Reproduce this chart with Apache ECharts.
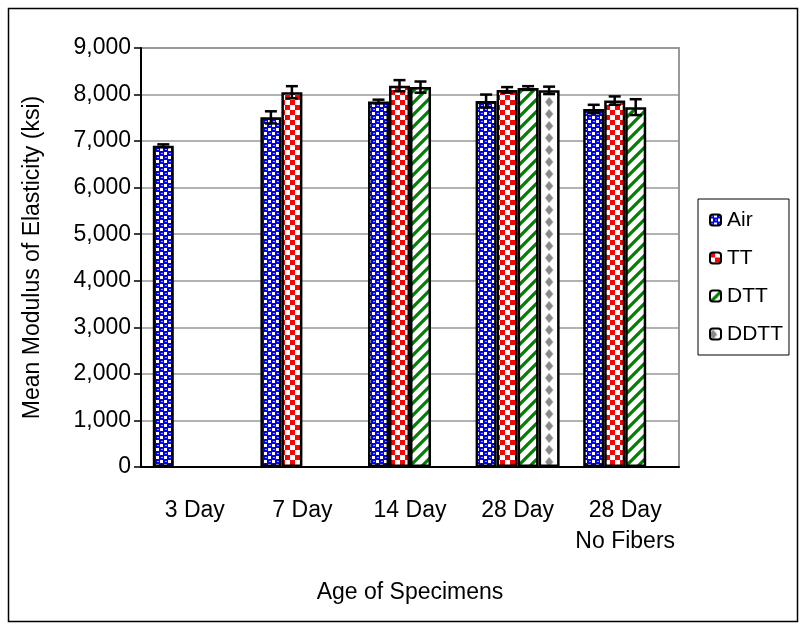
<!DOCTYPE html>
<html>
<head>
<meta charset="utf-8">
<script src="https://cdn.jsdelivr.net/npm/echarts@6/dist/echarts.min.js"></script>
<style>
  html, body { margin: 0; padding: 0; background: #fff; }
  #main { width: 809px; height: 632px; }
</style>
</head>
<body>
<div id="main"></div>
<script>
// categories and values
var categories = ['3 Day', '7 Day', '14 Day', '28 Day', '28 Day\nNo Fibers'];
var seriesNames = ['Air', 'TT', 'DTT', 'DDTT'];
var airValues  = [6900, 7510, 7850, 7860, 7690];
var ttValues   = [null, 8050, 8190, 8100, 7870];
var dttValues  = [null, null, 8160, 8140, 7730];
var ddttValues = [null, null, null, 8090, null];
// +/- error for each bar
var airErr  = [30, 130, 40, 140, 90];
var ttErr   = [null, 130, 120, 60, 90];
var dttErr  = [null, null, 120, 40, 170];
var ddttErr = [null, null, null, 80, null];
var yTicks = [0, 1000, 2000, 3000, 4000, 5000, 6000, 7000, 8000, 9000];

var allValues = [airValues, ttValues, dttValues, ddttValues];
var allErr = [airErr, ttErr, dttErr, ddttErr];

// fill patterns
function makeTile(w, h, draw) {
  var c = document.createElement('canvas');
  c.width = w; c.height = h;
  draw(c.getContext('2d'));
  return c;
}
var airTile = makeTile(8, 8, function (ctx) {
  ctx.fillStyle = '#0000ff';
  ctx.fillRect(0, 0, 8, 8);
  ctx.fillStyle = '#ffffff';
  ctx.fillRect(0, 4, 3, 3);
  ctx.fillRect(4, 0, 3, 3);
  ctx.fillStyle = '#9ab0ff';
  ctx.fillRect(1, 1, 2, 1);
  ctx.fillRect(5, 5, 2, 1);
});
var ttTile = makeTile(10, 10, function (ctx) {
  ctx.fillStyle = '#ffffff';
  ctx.fillRect(0, 0, 10, 10);
  ctx.fillStyle = '#ff0000';
  ctx.fillRect(0, 0, 5, 5);
  ctx.fillRect(5, 5, 5, 5);
});
var dttTile = makeTile(12, 12, function (ctx) {
  ctx.fillStyle = '#ffffff';
  ctx.fillRect(0, 0, 12, 12);
  ctx.strokeStyle = '#008000';
  ctx.lineWidth = 3.2;
  ctx.beginPath();
  ctx.moveTo(-3, 15); ctx.lineTo(15, -3);
  ctx.moveTo(-9, 9); ctx.lineTo(9, -9);
  ctx.moveTo(3, 21); ctx.lineTo(21, 3);
  ctx.stroke();
});
var ddttTile = makeTile(21, 12, function (ctx) {
  ctx.fillStyle = '#ffffff';
  ctx.fillRect(0, 0, 21, 12);
  ctx.fillStyle = '#888888';
  ctx.beginPath();
  ctx.moveTo(10.5, 1); ctx.lineTo(14.5, 6); ctx.lineTo(10.5, 11); ctx.lineTo(6.5, 6);
  ctx.closePath();
  ctx.fill();
});
var tiles = [airTile, ttTile, dttTile, ddttTile];

var barWidth = 21;
var fontSize = 23;

function fmt(v) {
  return String(v).replace(/\B(?=(\d{3})+(?!\d))/g, ',');
}

var series = [];
seriesNames.forEach(function (name, i) {
  series.push({
    name: name,
    type: 'bar',
    barWidth: barWidth,
    barGap: '0%',
    data: allValues[i].map(function (v) { return v == null ? '-' : v; }),
    itemStyle: {
      color: { image: tiles[i], repeat: 'repeat' },
      borderColor: '#000',
      borderWidth: 2.5
    },
    emphasis: { disabled: true }
  });
});

// error bars
var errData = [];
allValues.forEach(function (vals, s) {
  vals.forEach(function (v, c) {
    if (v != null && allErr[s][c] != null) errData.push([c, v, allErr[s][c], s]);
  });
});
series.push({
  type: 'custom',
  name: 'err',
  silent: true,
  z: 10,
  data: errData,
  renderItem: function (params, api) {
    var c = api.value(0), v = api.value(1), e = api.value(2), s = api.value(3);
    var off = (s - 1.5) * barWidth;
    var top = api.coord([c, v + e]);
    var bot = api.coord([c, v - e]);
    var x = top[0] + off;
    var hw = 6;
    var st = { stroke: '#000', lineWidth: 2.5 };
    return {
      type: 'group',
      children: [
        { type: 'line', shape: { x1: x, y1: top[1], x2: x, y2: bot[1] }, style: st },
        { type: 'line', shape: { x1: x - hw, y1: top[1], x2: x + hw, y2: top[1] }, style: st },
        { type: 'line', shape: { x1: x - hw, y1: bot[1], x2: x + hw, y2: bot[1] }, style: st }
      ]
    };
  }
});

var myChart = echarts.init(document.getElementById('main'));
var option = {
  backgroundColor: '#fff',
  animation: false,
  textStyle: { fontFamily: 'Liberation Sans, Arial, sans-serif' },
  graphic: [{
    type: 'rect',
    shape: { x: 8.5, y: 8.5, width: 789, height: 613 },
    style: { fill: 'none', stroke: '#000', lineWidth: 1.5 },
    silent: true
  }],
  grid: {
    left: 141, right: 130, top: 48, bottom: 165,
    show: true, borderColor: '#999', borderWidth: 2, backgroundColor: 'transparent'
  },
  legend: {
    data: seriesNames,
    orient: 'vertical',
    left: 698, top: 199,
    padding: [10, 6, 10, 11],
    itemWidth: 11, itemHeight: 11,
    itemGap: 16,
    borderColor: '#000', borderWidth: 1,
    textStyle: { fontSize: 21, lineHeight: 22, color: '#000', padding: [0, 0, 0, 1] },
    selectedMode: false
  },
  xAxis: {
    type: 'category',
    data: categories,
    name: 'Age of Specimens',
    nameLocation: 'middle',
    nameGap: 114,
    nameTextStyle: { fontSize: fontSize, color: '#000' },
    axisLine: { lineStyle: { color: '#000', width: 2 } },
    axisTick: { length: 8, lineStyle: { color: '#000', width: 1.5 } },
    axisLabel: { interval: 0, fontSize: fontSize, color: '#000', margin: 28, lineHeight: 31 }
  },
  yAxis: {
    type: 'value',
    min: yTicks[0], max: yTicks[yTicks.length - 1], interval: yTicks[1] - yTicks[0],
    name: 'Mean Modulus of Elasticity (ksi)',
    nameLocation: 'middle',
    nameGap: 97,
    nameTextStyle: { fontSize: fontSize, color: '#000' },
    axisLine: { show: true, lineStyle: { color: '#000', width: 2 } },
    axisTick: { show: true, length: 7, lineStyle: { color: '#000', width: 1.5 } },
    axisLabel: { fontSize: fontSize, color: '#000', margin: 10, formatter: fmt },
    splitLine: { lineStyle: { color: '#999', width: 1.5 } }
  },
  series: series
};
myChart.setOption(option);

// line the diamond column up with the middle of the DDTT bar
var ddttCenter = myChart.convertToPixel({ xAxisIndex: 0 }, 3) + 1.5 * barWidth;
myChart.setOption({
  series: [{}, {}, {}, {
    itemStyle: { color: { image: ddttTile, repeat: 'repeat', x: ddttCenter - 10.5, y: 0 } }
  }]
});
</script>
</body>
</html>
